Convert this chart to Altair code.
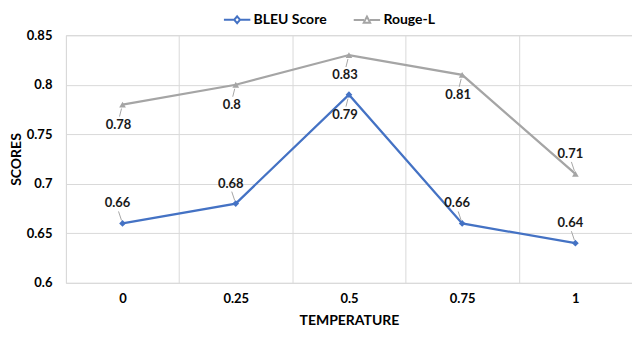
import altair as alt
import pandas as pd

temps = ["0", "0.25", "0.5", "0.75", "1"]
bleu = [0.66, 0.68, 0.79, 0.66, 0.64]
rouge = [0.78, 0.80, 0.83, 0.81, 0.71]
series_names = ["BLEU Score", "Rouge-L"]
y_ticks = [0.6, 0.65, 0.7, 0.75, 0.8, 0.85]

rows = []
for s, vals in zip(series_names, [bleu, rouge]):
    for i, (t, v) in enumerate(zip(temps, vals)):
        rows.append({"t": t, "v": v, "s": s, "i": i})
df = pd.DataFrame(rows)

colors = {"BLEU Score": "#4472C4", "Rouge-L": "#A5A5A5"}
FONT = "Lato"
GRID = "#d9d9d9"

x_enc = alt.X(
    "t:N", sort=temps,
    scale=alt.Scale(type="band", paddingInner=0, paddingOuter=0),
    axis=alt.Axis(title="TEMPERATURE", labelAngle=0, tickBand="extent", grid=True,
                  gridColor=GRID, ticks=False, domain=False, labelPadding=10,
                  titlePadding=8, labelFont=FONT, labelFontSize=13, labelFontWeight="bold",
                  labelColor="#000000", titleFont=FONT, titleFontSize=14,
                  titleFontWeight="bold", titleColor="#000000"),
)
y_enc = alt.Y(
    "v:Q", scale=alt.Scale(domain=[0.6, 0.85], nice=False, zero=False),
    axis=alt.Axis(values=y_ticks, format=".2~f", title="SCORES", grid=True, gridColor=GRID,
                  ticks=False, domain=False, labelPadding=14, titlePadding=3,
                  labelFont=FONT, labelFontSize=13, labelFontWeight="bold",
                  labelColor="#000000", titleFont=FONT, titleFontSize=14,
                  titleFontWeight="bold", titleColor="#000000"),
)

base = alt.Chart(df)
layers = []

# leader lines + labels
def labels(series, cond, above):
    filt = f"datum.s == '{series}' && ({cond})"
    if above:
        rule = base.mark_rule(color="#a6a6a6", strokeWidth=1, yOffset=-3, y2Offset=-12,
                              xOffset=-1, x2Offset=-4)
        txt = base.mark_text(font=FONT, fontSize=13, fontWeight="bold", color="#1a1a1a",
                             dy=-20, dx=-5)
    else:
        rule = base.mark_rule(color="#a6a6a6", strokeWidth=1, yOffset=4, y2Offset=12,
                              xOffset=-1, x2Offset=-3)
        txt = base.mark_text(font=FONT, fontSize=13, fontWeight="bold", color="#1a1a1a",
                             dy=20, dx=-4)
    r = rule.encode(x=x_enc, x2="t:N", y=y_enc, y2="v:Q").transform_filter(filt)
    t = txt.encode(x=x_enc, y=y_enc, text=alt.Text("v:Q", format=".2~f")).transform_filter(filt)
    return [r, t]

for s, marker, sw, sz in [("Rouge-L", "triangle-up", 2.25, 45), ("BLEU Score", "diamond", 2.25, 45)]:
    layers.append(base.mark_line(color=colors[s], strokeWidth=sw).encode(
        x=x_enc, y=y_enc).transform_filter(f"datum.s == '{s}'"))
    layers.append(base.mark_point(shape=marker, filled=True, opacity=1, color=colors[s], size=sz).encode(
        x=x_enc, y=y_enc).transform_filter(f"datum.s == '{s}'"))

layers += labels("BLEU Score", "datum.i != 2", True)
layers += labels("BLEU Score", "datum.i == 2", False)
layers += labels("Rouge-L", "datum.i == 4", True)
layers += labels("Rouge-L", "datum.i != 4", False)

diamond_path = "M-1,0L-0.22,0M0.22,0L1,0M0,-0.26L0.22,0L0,0.26L-0.22,0Z"
tri_path = "M-1,0L-0.22,0M0.22,0L1,0M0,-0.26L0.24,0.2L-0.24,0.2Z"
leg = alt.Legend(title=None, orient="none", legendX=157, legendY=-30, direction="horizontal",
                 labelFont=FONT, labelFontSize=14, labelFontWeight="bold", labelColor="#000000",
                 symbolSize=700, symbolStrokeWidth=2, symbolOpacity=1, columnPadding=22,
                 labelOffset=2)
layers.append(base.mark_point(opacity=0, filled=False).encode(
    x=x_enc, y=y_enc,
    color=alt.Color("s:N", scale=alt.Scale(domain=series_names, range=[colors[n] for n in series_names]), legend=leg),
    shape=alt.Shape("s:N", scale=alt.Scale(domain=series_names, range=[diamond_path, tri_path]), legend=leg),
))

chart = alt.layer(*layers).properties(
    width=567, height=248,
    autosize=alt.AutoSizeParams(type="none"),
    padding={"left": 58, "top": 27, "right": 0, "bottom": 60},
).configure_view(stroke=GRID)

chart.save("out.html", embed_options={"renderer": "svg", "actions": False})
